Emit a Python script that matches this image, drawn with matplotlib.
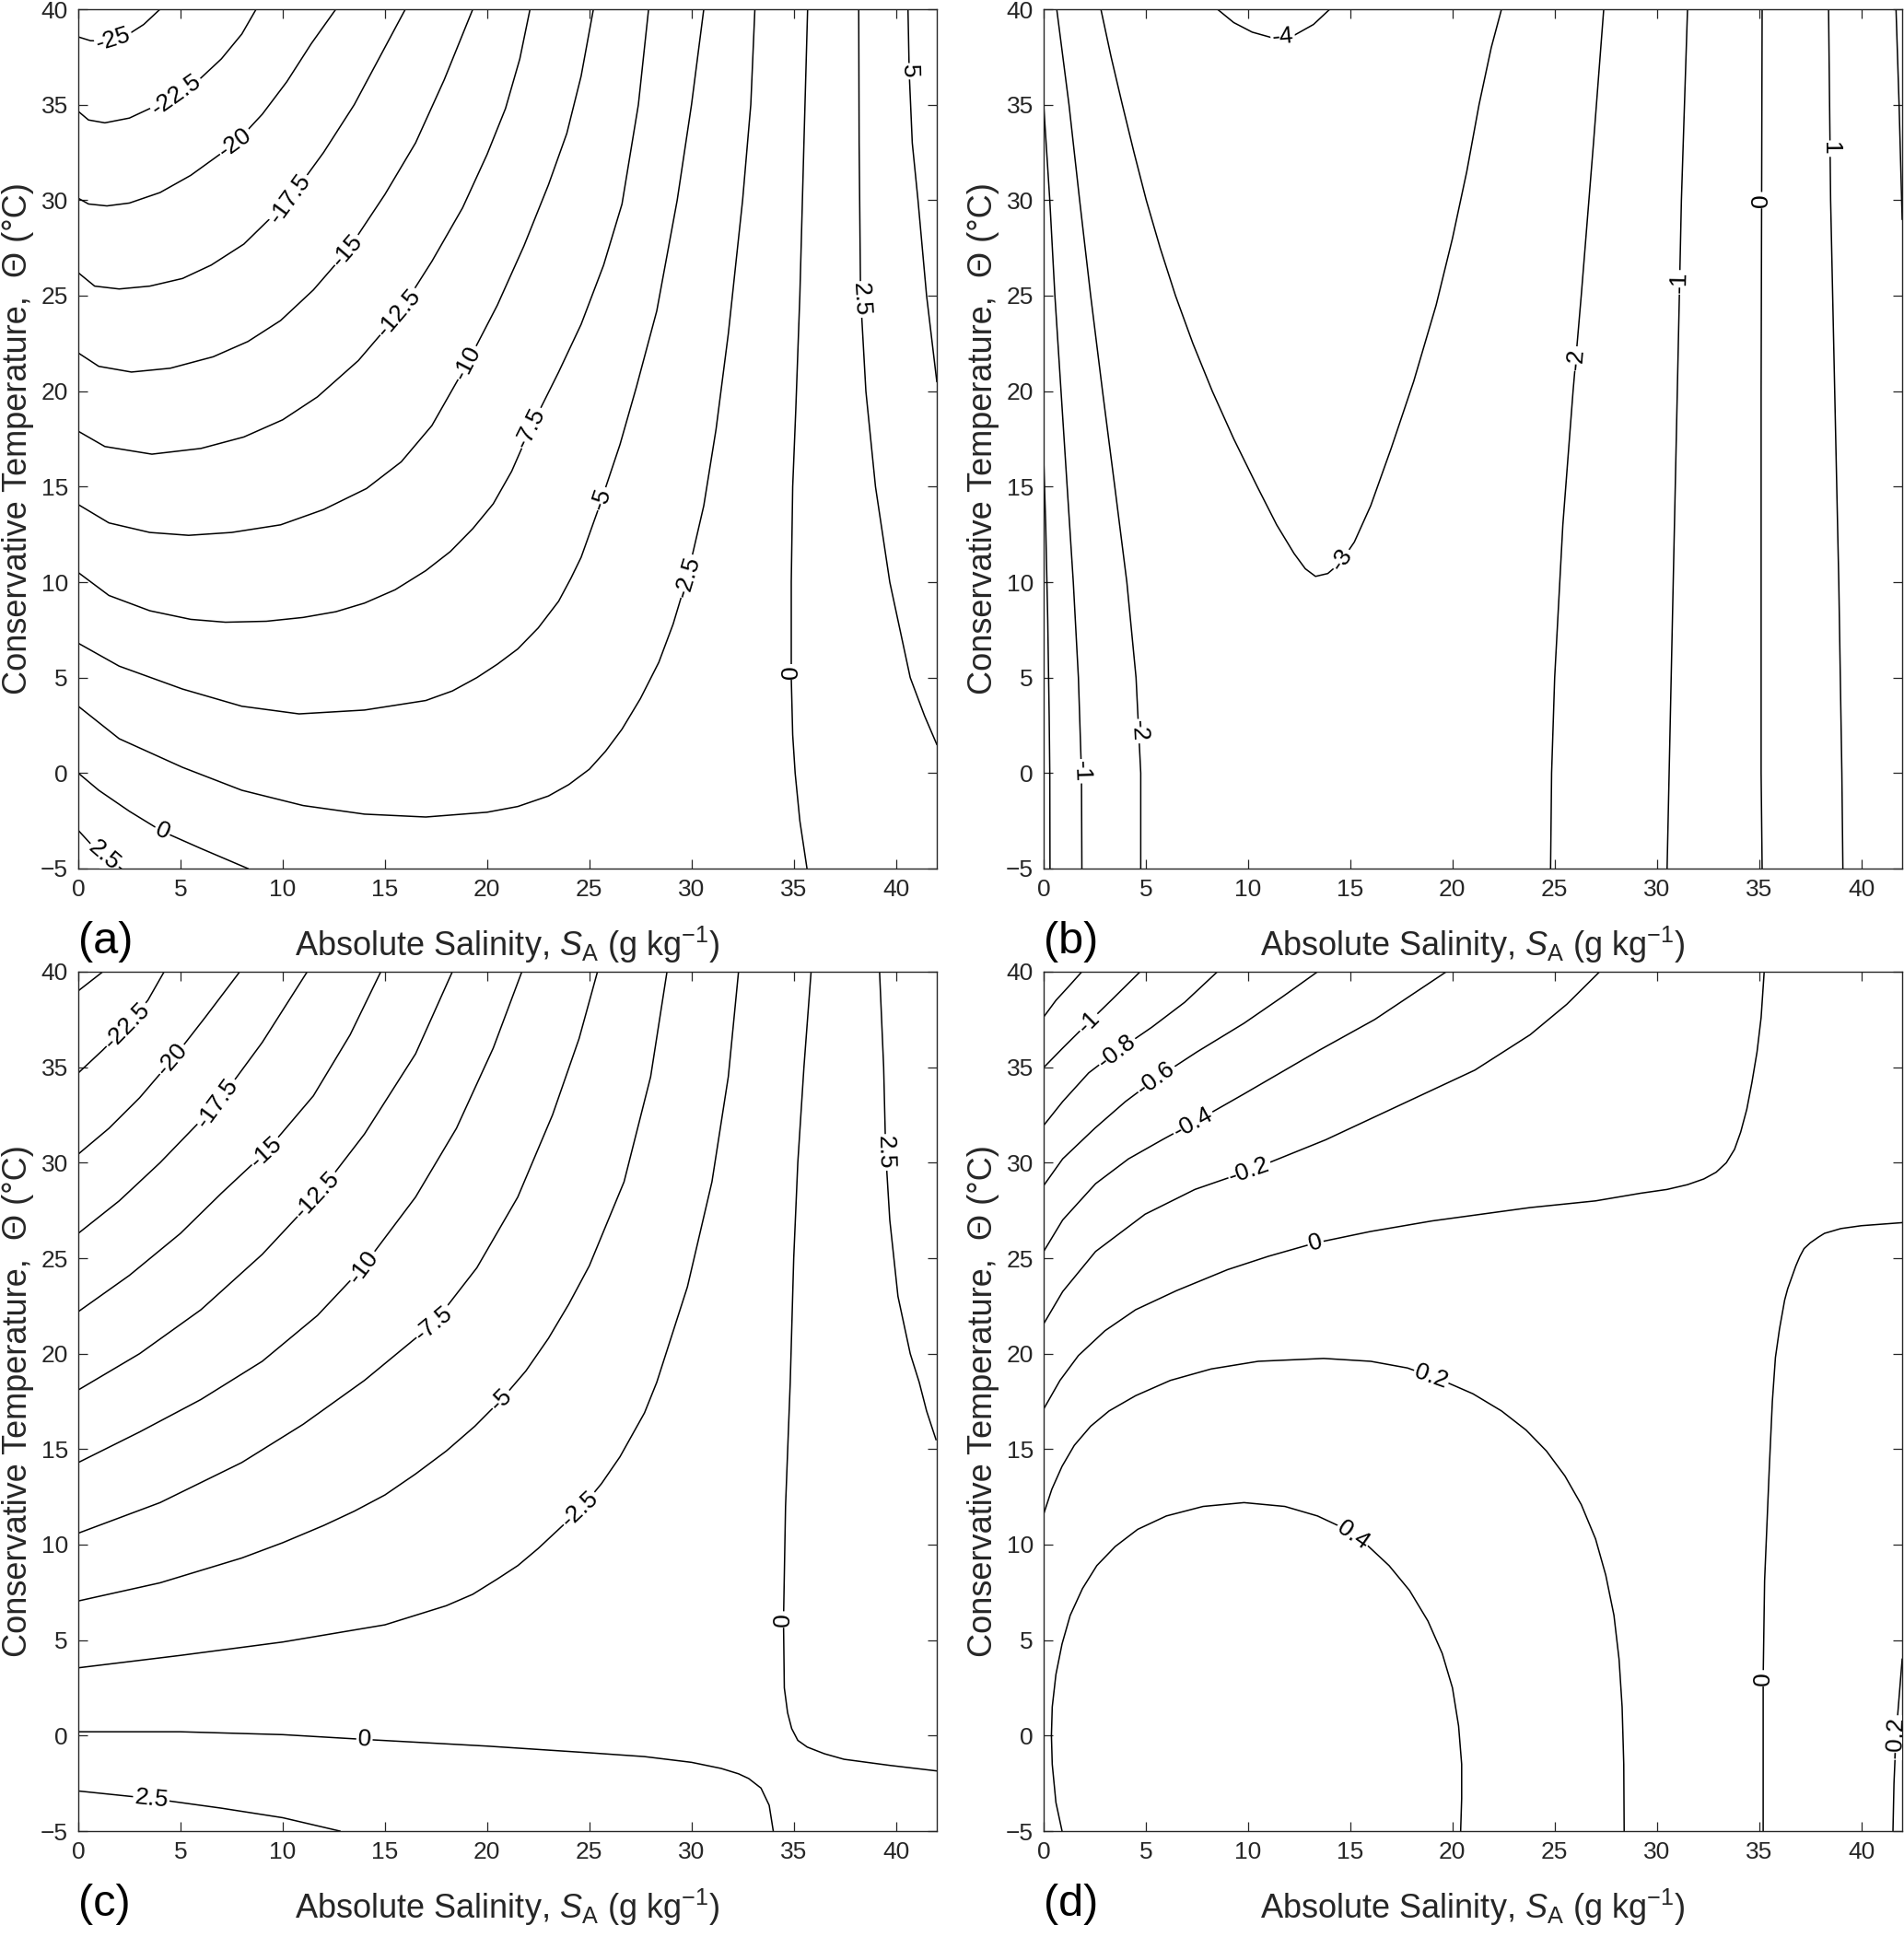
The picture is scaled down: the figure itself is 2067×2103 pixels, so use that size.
import numpy as np
import matplotlib
matplotlib.use("Agg")
import matplotlib.pyplot as plt

plt.rcParams['font.family'] = ['Liberation Sans', 'DejaVu Sans']
plt.rcParams['mathtext.fontset'] = 'custom'
plt.rcParams['mathtext.rm'] = 'Liberation Sans'
plt.rcParams['mathtext.it'] = 'Liberation Sans:italic'

# contour lines, (S_A, Theta) pairs

# ---- panel (a)
a_m25 = [(0,38.55),(0.6,38.35),(1.5,38.35),(2.4,38.65),(3.2,39.2),(4.0,40)]
a_m22_5 = [(0,34.65),(0.5,34.2),(1.3,34.05),(2.5,34.3),(3.5,34.8),(4.8,35.5),(6.0,36.4),(7.0,37.4),(8.0,38.7),(8.7,40)]
a_m20 = [(0,30.1),(0.5,29.8),(1.4,29.7),(2.5,29.85),(4.0,30.4),(5.5,31.3),(7.7,33.0),(9.0,34.5),(10.2,36.2),(11.4,38.2),(12.6,40)]
a_m17_5 = [(0,26.2),(0.8,25.5),(2.0,25.35),(3.5,25.5),(5.1,25.9),(6.5,26.6),(8.1,27.7),(10.3,30.0),(12.0,32.5),(13.5,35.0),(14.9,37.8),(16.0,40)]
a_m15 = [(0,22.0),(1.0,21.3),(2.6,21.0),(4.5,21.2),(6.6,21.8),(8.3,22.6),(9.9,23.7),(11.5,25.3),(13.2,27.4),(15.0,30.3),(16.5,33.0),(17.9,36.3),(19.3,40)]
a_m12_5 = [(0,17.9),(1.3,17.1),(3.6,16.7),(6.0,17.0),(8.1,17.6),(10.0,18.5),(11.7,19.7),(13.7,21.6),(15.7,24.1),(17.3,26.8),(18.8,29.6),(20.0,32.4),(20.9,34.8),(21.6,37.4),(22.1,40)]
a_m10 = [(0,14.06),(1.5,13.1),(3.5,12.6),(5.4,12.45),(7.5,12.6),(9.9,13.0),(12.0,13.8),(14.1,14.9),(15.8,16.3),(17.3,18.2),(19.0,21.4),(20.5,24.5),(21.8,27.6),(23.0,30.8),(23.9,33.5),(24.6,36.5),(25.2,40)]
a_m7_5 = [(0,10.5),(1.5,9.3),(3.5,8.5),(5.5,8.05),(7.2,7.9),(9.2,7.95),(11.0,8.15),(12.6,8.45),(14.0,8.9),(15.5,9.6),(17.0,10.6),(18.2,11.6),(19.3,12.8),(20.3,14.1),(21.2,15.8),(22.1,18.0),(23.5,21.0),(24.6,23.5),(25.7,26.6),(26.6,29.8),(27.4,35.0),(27.9,40)]
a_m5 = [(0,6.8),(2.0,5.6),(5.1,4.4),(8.0,3.5),(10.8,3.1),(14.0,3.3),(17.0,3.8),(18.3,4.3),(19.5,5.0),(20.5,5.7),(21.5,6.5),(22.5,7.6),(23.5,9.0),(24.1,10.2),(24.6,11.3),(25.5,14.0),(26.5,17.2),(27.3,20.2),(28.3,24.2),(29.3,30.0),(30.0,35.0),(30.6,40)]
a_m2_5 = [(0,3.5),(2.0,1.8),(5.1,0.3),(8.0,-0.9),(11.0,-1.7),(14.0,-2.15),(17.0,-2.3),(20.0,-2.05),(21.5,-1.75),(23.0,-1.2),(24.0,-0.6),(25.0,0.2),(25.8,1.15),(26.6,2.3),(27.5,3.9),(28.4,5.8),(29.1,7.8),(29.8,10.3),(30.6,14.0),(31.2,18.0),(31.8,23.0),(32.5,30.0),(32.9,35.0),(33.1,40)]
a_0_left = [(0,0.0),(1.0,-0.9),(2.5,-2.0),(4.1,-3.05),(6.0,-3.95),(8.3,-5)]
a_2_5_left = [(0,-3.0),(0.6,-3.7),(1.3,-4.35),(2.1,-5)]
a_0_right = [(35.68,40),(35.5,33),(35.3,25),(35.1,19),(34.95,15),(34.88,10),(34.88,5),(34.95,2),(35.07,0),(35.3,-2.5),(35.65,-5)]
a_2_5_right = [(38.18,40),(38.2,33),(38.27,25),(38.53,20),(39.0,15),(39.7,10),(40.2,7.5),(40.7,5),(41.4,3),(42,1.5)]
a_5 = [(40.59,40),(40.65,36.7),(40.8,33),(41.08,30),(41.5,25),(42,20.5)]

# ---- panel (b)
b_0_left = [(0,16.5),(0.1,13.0),(0.2,8.0),(0.27,3.0),(0.3,0),(0.31,-5)]
b_m1_left = [(0,35),(0.3,30),(0.55,25),(0.85,20),(1.15,15),(1.45,10),(1.7,5),(1.85,0),(1.87,-5)]
b_m2_left = [(0.64,40),(1.24,35),(1.76,30),(2.3,25),(2.88,20),(3.48,15),(4.07,10),(4.52,5),(4.75,0),(4.75,-5)]
b_m3 = [(2.8,40),(3.3,37.5),(3.85,35),(4.42,32.5),(5.02,30),(5.7,27.5),(6.45,25),(7.3,22.5),(8.25,20),(9.3,17.5),(10.45,15),(11.4,13),(12.25,11.5),(12.8,10.7),(13.3,10.3),(13.9,10.45),(14.5,11.0),(15.2,12.1),(16.0,14.0),(17.0,17.0),(18.1,20.5),(19.2,24.5),(20.0,28.0),(20.7,31.5),(21.3,35.0),(21.9,38.0),(22.4,40)]
b_m4 = [(8.5,40),(9.3,39.3),(10.2,38.8),(11.2,38.5),(12.2,38.6),(13.2,39.2),(14.0,40)]
b_m2_right = [(27.4,40),(26.9,33),(26.3,25),(25.9,20),(25.4,13),(25.0,5),(24.85,0),(24.8,-5)]
b_m1_right = [(31.5,40),(31.2,30),(31.0,20),(30.8,10),(30.6,0),(30.5,-5)]
b_0 = [(35.15,40),(35.1,20),(35.1,0),(35.15,-5)]
b_1 = [(38.4,40),(38.5,30),(38.7,20),(38.9,10),(39.05,0),(39.1,-5)]
b_2 = [(41.7,40),(41.85,35),(42,29)]

# ---- panel (c)
c_m25 = [(0,39.0),(0.6,39.5),(1.2,40)]
c_m22_5 = [(0,34.7),(1.2,35.9),(2.4,37.2),(3.4,38.5),(4.2,40)]
c_m20 = [(0,30.45),(1.5,31.8),(3.0,33.4),(4.6,35.4),(6.2,37.6),(7.9,40)]
c_m17_5 = [(0,26.3),(2.0,28.0),(4.0,30.0),(6.8,33.1),(9.0,36.3),(11.2,40)]
c_m15 = [(0,22.2),(2.5,24.1),(5.0,26.3),(7.0,28.4),(9.2,30.6),(11.5,33.5),(13.3,36.7),(14.8,40)]
c_m12_5 = [(0,18.1),(3.0,20.0),(6.0,22.3),(9.0,25.2),(11.7,28.3),(14.0,31.5),(16.5,35.7),(18.3,40)]
c_m10 = [(0,14.3),(3.0,15.9),(6.0,17.6),(9.0,19.6),(11.7,22.0),(13.9,24.5),(16.5,28.2),(18.5,31.8),(20.3,36.0),(21.7,40)]
c_m7_5 = [(0,10.6),(4.0,12.2),(8.0,14.3),(11.0,16.3),(14.0,18.6),(17.4,21.6),(19.5,24.5),(21.5,28.2),(23.2,32.5),(24.5,36.5),(25.4,40)]
c_m5 = [(0,7.05),(4.0,8.0),(8.0,9.3),(10.0,10.1),(12.0,11.0),(13.5,11.75),(15.0,12.6),(16.5,13.7),(18.0,14.9),(19.4,16.2),(20.7,17.6),(21.9,19.1),(23.0,20.8),(24.0,22.6),(25.0,24.6),(26.7,29.0),(28.0,34.5),(28.8,40)]
c_m2_5 = [(0,3.55),(5.0,4.2),(10.0,4.9),(15.0,5.8),(18.0,6.8),(19.3,7.4),(20.5,8.2),(21.5,8.9),(22.5,9.8),(23.5,10.8),(24.6,11.9),(25.6,13.2),(26.5,14.6),(27.7,16.9),(28.3,18.5),(29.8,23.5),(31.0,29.0),(31.8,34.5),(32.3,40)]
c_0_low = [(0,0.2),(5,0.2),(10,0.05),(14,-0.2),(20,-0.55),(25,-0.9),(27.7,-1.1),(30,-1.4),(31.45,-1.72),(32.3,-2.0),(32.8,-2.25),(33.4,-2.75),(33.8,-3.65),(34.0,-5)]
c_0_right = [(35.85,40),(35.5,35),(35.2,30),(35.0,25),(34.83,18.5),(34.6,12),(34.5,6),(34.54,2.5),(34.7,1.2),(34.9,0.37),(35.2,-0.25),(35.66,-0.6),(36.5,-0.95),(37.46,-1.24),(39.7,-1.56),(42,-1.85)]
c_2_5_right = [(39.2,40),(39.4,35),(39.5,30.5),(39.7,27),(40.1,23),(40.7,20),(41.14,18.5),(41.5,17),(41.96,15.5)]
c_2_5_low = [(0,-2.9),(3.6,-3.3),(7,-3.8),(10,-4.3),(12.8,-5)]

# ---- panel (d)
d_m1_2 = [(0,37.63),(0.6,38.5),(1.2,39.2),(1.87,40)]
d_m1 = [(0,34.98),(0.93,36.0),(2.2,37.35),(3.35,38.55),(4.72,40)]
d_m0_8 = [(0,31.95),(0.93,33.2),(2.2,34.7),(3.6,35.85),(5.3,37.1),(6.9,38.4),(8.5,40)]
d_m0_6 = [(0,28.8),(0.93,30.2),(2.5,31.8),(4.0,33.2),(5.5,34.4),(7.5,35.8),(9.8,37.3),(11.7,38.7),(13.4,40)]
d_m0_4 = [(0,25.35),(0.93,27.0),(2.54,28.9),(4.15,30.2),(5.8,31.2),(7.34,32.1),(9.8,33.6),(13.5,35.9),(16.2,37.5),(19.7,40)]
d_m0_2 = [(0,21.56),(0.93,23.25),(2.54,25.35),(4.96,27.3),(7.4,28.6),(10.1,29.6),(13.8,31.2),(17.8,33.2),(21.1,34.85),(23.8,36.7),(25.6,38.3),(27.2,40)]
d_0 = [(0,17.1),(0.8,18.6),(1.7,19.9),(3,21.2),(4.5,22.3),(6.5,23.3),(9,24.4),(11,25.1),(13.3,25.8),(16,26.4),(19,26.95),(23.8,27.65),(27,28.0),(29.2,28.4),(30.5,28.6),(31.5,28.85),(32.3,29.15),(32.9,29.5),(33.4,30.0),(33.8,30.7),(34.1,31.6),(34.4,32.8),(34.65,34.2),(34.9,35.8),(35.1,37.6),(35.25,40)]
d_0_2 = [(0,11.6),(0.4,12.9),(0.9,14.1),(1.5,15.2),(2.3,16.2),(3.2,17.0),(4.5,17.8),(6.2,18.6),(8.2,19.2),(10.5,19.6),(13.7,19.75),(16,19.6),(17.8,19.25),(19.5,18.6),(21,17.9),(22.4,17.0),(23.6,16.0),(24.6,14.9),(25.5,13.6),(26.3,12.1),(27.0,10.3),(27.5,8.4),(27.9,6.3),(28.15,4.0),(28.3,1.5),(28.38,-1.5),(28.4,-5)]
d_0_4 = [(0.9,-5),(0.6,-3.5),(0.42,-1.5),(0.38,0),(0.42,1.5),(0.6,3.2),(0.9,4.8),(1.3,6.3),(1.9,7.7),(2.6,8.9),(3.5,9.9),(4.6,10.8),(6,11.5),(7.8,12.0),(9.8,12.2),(11.8,12.0),(13.4,11.5),(14.6,10.9),(15.8,10.0),(16.9,8.9),(17.9,7.6),(18.8,6.0),(19.5,4.3),(20.0,2.5),(20.3,0.5),(20.45,-1.5),(20.45,-3.3),(20.4,-5)]
d_0_right = [(42,26.86),(40,26.7),(39,26.55),(38.2,26.3),(37.9,26.1),(37.5,25.8),(37.2,25.5),(37.0,25.1),(36.8,24.6),(36.6,24.0),(36.4,23.4),(36.25,22.8),(36.0,21.3),(35.8,19.8),(35.65,17.5),(35.5,14.0),(35.27,8.1),(35.2,3.0),(35.2,-5)]
d_m0_2_right = [(42,4.0),(41.85,2.0),(41.7,0),(41.6,-2.5),(41.55,-5)]

# (level, line, label spots)
panel_a = [(-25, a_m25, [(1.7,38.5)]), (-22.5, a_m22_5, [(4.83,35.46)]),
           (-20, a_m20, [(7.66,33.03)]), (-17.5, a_m17_5, [(10.34,30.1)]),
           (-15, a_m15, [(13.17,27.35)]), (-12.5, a_m12_5, [(15.7,24.1)]),
           (-10, a_m10, [(19.0,21.5)]), (-7.5, a_m7_5, [(22.1,18.1)]),
           (-5, a_m5, [(25.5,14.4)]), (-2.5, a_m2_5, [(29.8,10.3)]),
           (0, a_0_left, [(4.08,-3.13)]), (2.5, a_2_5_left, [(1.25,-4.35)]),
           (0, a_0_right, [(34.9,5.3)]), (2.5, a_2_5_right, [(38.23,24.8)]),
           (5, a_5, [(40.6,36.75)])]
panel_b = [(0, b_0_left, []), (-1, b_m1_left, [(1.87,0.1)]),
           (-2, b_m2_left, [(4.75,2.2)]), (-3, b_m3, [(14.7,11.1)]),
           (-4, b_m4, [(11.7,38.5)]), (-2, b_m2_right, [(26.1,21.7)]),
           (-1, b_m1_right, [(31.1,25.7)]), (0, b_0, [(35.1,30.0)]),
           (1, b_1, [(38.5,32.7)]), (2, b_2, [])]
panel_c = [(-25, c_m25, []), (-22.5, c_m22_5, [(2.37,37.2)]),
           (-20, c_m20, [(4.6,35.4)]), (-17.5, c_m17_5, [(6.82,33.13)]),
           (-15, c_m15, [(9.2,30.54)]), (-12.5, c_m12_5, [(11.72,28.27)]),
           (-10, c_m10, [(13.95,24.55)]), (-7.5, c_m7_5, [(17.36,21.63)]),
           (-5, c_m5, [(20.7,17.58)]), (-2.5, c_m2_5, [(24.63,11.75)]),
           (0, c_0_low, [(14.0,-0.17)]), (0, c_0_right, [(34.5,6.08)]),
           (2.5, c_2_5_right, [(39.5,30.54)]), (2.5, c_2_5_low, [(3.56,-3.4)])]
panel_d = [(-1.2, d_m1_2, []), (-1, d_m1, [(2.2,37.35)]),
           (-0.8, d_m0_8, [(3.6,35.8)]), (-0.6, d_m0_6, [(5.5,34.4)]),
           (-0.4, d_m0_4, [(7.35,32.0)]), (-0.2, d_m0_2, [(10.1,29.5)]),
           (0, d_0, [(13.3,25.8)]), (0.2, d_0_2, [(19.0,18.9)]),
           (0.4, d_0_4, [(15.1,10.45)]), (0, d_0_right, [(35.2,3.0)]),
           (-0.2, d_m0_2_right, [(41.64,-0.1)])]

panels = [panel_a, panel_b, panel_c, panel_d]
tags = ['(a)', '(b)', '(c)', '(d)']

fig = plt.figure(figsize=(20.67, 21.03), dpi=100)
W, H = 2067.0, 2103.0
boxes = [(85, 10), (1133, 10), (85, 1055), (1133, 1055)]
aw, ah = 932.0, 933.0
grey = '#262626'


def put_label(ax, pts, level, spot):
    xy = ax.transData.transform(np.array(pts, dtype=float))
    p = ax.transData.transform(spot)
    best = None
    for i in range(len(xy) - 1):
        a, b = xy[i], xy[i + 1]
        d = b - a
        t = np.clip(np.dot(p - a, d) / np.dot(d, d), 0, 1)
        q = a + t * d
        dist = np.hypot(*(p - q))
        if best is None or dist < best[0]:
            best = (dist, q, d)
    q, d = best[1], best[2]
    ang = np.degrees(np.arctan2(d[1], d[0]))
    if ang > 90:
        ang -= 180
    if ang <= -90:
        ang += 180
    qd = ax.transData.inverted().transform(q)
    ax.text(qd[0], qd[1], '%g' % level, rotation=ang, rotation_mode='anchor',
            ha='center', va='center', fontsize=19, color='black', zorder=4,
            clip_on=True,
            bbox=dict(boxstyle='square,pad=0.06', fc='white', ec='none'))


for k in range(4):
    x0, y0 = boxes[k]
    ax = fig.add_axes([x0 / W, 1 - (y0 + ah) / H, aw / W, ah / H])
    ax.set_xlim(0, 42)
    ax.set_ylim(-5, 40)
    ax.set_xticks(np.arange(0, 41, 5))
    ax.set_yticks(np.arange(-5, 41, 5))
    ax.tick_params(direction='in', top=True, right=True, length=7, width=0.9,
                   color=grey, labelcolor=grey, labelsize=19, pad=8)
    for s in ax.spines.values():
        s.set_color(grey)
        s.set_linewidth(1.0)
    for level, pts, spots in panels[k]:
        arr = np.array(pts, dtype=float)
        ax.plot(arr[:, 0], arr[:, 1], color='black', lw=1.1, zorder=2)
    for level, pts, spots in panels[k]:
        for sp in spots:
            put_label(ax, pts, level, sp)
    ax.set_xlabel(r'Absolute Salinity, $S_{\rm A}$ (g kg$^{-1}$)', fontsize=26,
                  color=grey)
    ax.xaxis.set_label_coords(0.5, -0.102)
    ax.xaxis.label.set_va('baseline')
    ax.set_ylabel('Conservative Temperature,  \u0398 (\u00b0C)', fontsize=26,
                  color=grey)
    ax.yaxis.set_label_coords(-0.07, 0.5)
    ax.yaxis.label.set_va('center')
    ax.text(0.0, -0.085, tags[k], transform=ax.transAxes, fontsize=35,
            ha='left', va='center', color='black')

fig.savefig('out.png', dpi=100)
